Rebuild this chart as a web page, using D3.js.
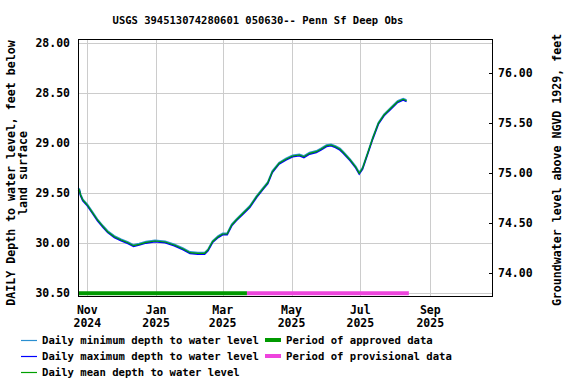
<!DOCTYPE html>
<html><head><meta charset="utf-8">
<script src="https://cdn.jsdelivr.net/npm/d3@7"></script>
<style>
html,body{margin:0;padding:0;background:#fff;}
text{font-family:"DejaVu Sans Mono",monospace;font-weight:bold;fill:#000;}
</style></head>
<body>
<script>
const title = "USGS 394513074280601 050630-- Penn Sf Deep Obs";
const dates = ["2024-10-24","2024-10-25","2024-10-26","2024-10-28","2024-11-01","2024-11-06","2024-11-10","2024-11-15","2024-11-19","2024-11-25",
"2024-12-01","2024-12-07","2024-12-12","2024-12-17","2024-12-23","2024-12-31","2025-01-09","2025-01-17","2025-01-25","2025-01-31",
"2025-02-07","2025-02-13","2025-02-16","2025-02-20","2025-02-25","2025-03-01","2025-03-05","2025-03-09","2025-03-13","2025-03-19",
"2025-03-25","2025-03-31","2025-04-06","2025-04-10","2025-04-14","2025-04-20","2025-04-26","2025-05-02","2025-05-08","2025-05-12",
"2025-05-17","2025-05-23","2025-05-27","2025-06-01","2025-06-05","2025-06-09","2025-06-13","2025-06-16","2025-06-22","2025-06-27",
"2025-06-30","2025-07-03","2025-07-08","2025-07-12","2025-07-17","2025-07-22","2025-07-28","2025-08-03","2025-08-08","2025-08-11"];
const meanDepth = [29.455,29.467,29.517,29.567,29.617,29.700,29.767,29.834,29.884,29.934,29.967,29.994,30.024,30.010,29.990,29.977,29.987,30.017,30.057,30.094,30.100,30.100,30.067,29.984,29.934,29.907,29.907,29.817,29.767,29.700,29.634,29.534,29.450,29.394,29.284,29.200,29.160,29.127,29.117,29.134,29.100,29.084,29.060,29.024,29.017,29.034,29.060,29.094,29.167,29.240,29.300,29.250,29.084,28.950,28.800,28.717,28.650,28.584,28.560,28.574];
const minDepth = [29.447,29.459,29.509,29.559,29.609,29.692,29.759,29.826,29.876,29.926,29.959,29.986,30.016,30.002,29.982,29.969,29.979,30.009,30.049,30.086,30.092,30.092,30.059,29.976,29.926,29.899,29.899,29.809,29.759,29.692,29.626,29.526,29.442,29.386,29.276,29.192,29.152,29.119,29.109,29.126,29.092,29.076,29.052,29.016,29.009,29.026,29.052,29.086,29.159,29.232,29.292,29.242,29.076,28.942,28.792,28.709,28.642,28.576,28.552,28.566];
const maxDepth = [29.463,29.475,29.525,29.575,29.625,29.708,29.775,29.842,29.892,29.942,29.975,30.002,30.032,30.018,29.998,29.985,29.995,30.025,30.065,30.102,30.108,30.108,30.075,29.992,29.942,29.915,29.915,29.825,29.775,29.708,29.642,29.542,29.458,29.402,29.292,29.208,29.168,29.135,29.125,29.142,29.108,29.092,29.068,29.032,29.025,29.042,29.068,29.102,29.175,29.248,29.308,29.258,29.092,28.958,28.808,28.725,28.658,28.592,28.568,28.582];
const leftTicks = [28.0, 28.5, 29.0, 29.5, 30.0, 30.5];
const rightTicks = [74.0, 74.5, 75.0, 75.5, 76.0];
const xTickDates = ["2024-11-01","2025-01-01","2025-03-01","2025-05-01","2025-07-01","2025-09-01"];
const xTickMonths = ["Nov","Jan","Mar","May","Jul","Sep"];
const xTickYears = ["2024","2025","2025","2025","2025","2025"];
const periodNames = ["approved","provisional"];
const periodStart = ["2024-10-23T18:00","2025-03-22T12:00"];
const periodEnd = ["2025-03-22T12:00","2025-08-13T00:00"];
const landSurface = 104.30;
const legendLines = ["Daily minimum depth to water level","Daily maximum depth to water level","Daily mean depth to water level"];
const legendPeriods = ["Period of approved data","Period of provisional data"];

const W = 576, H = 384;
const L = 78, R = 492, T = 39.5, B = 296;
const colMin = "#2a8fd0", colMax = "#0000ff", colMean = "#00a000";
const colAppr = "#009900", colProv = "#ee44dd";

const parse = s => new Date(s.length > 10 ? s : s + "T00:00");
const svg = d3.select("body").append("svg").attr("width", W).attr("height", H);

const x = d3.scaleTime().domain([parse("2024-10-23T18:00"), parse("2025-10-25T17:00")]).range([L, R]);
const y = d3.scaleLinear().domain([27.962, 30.527]).range([T, B]);
const y2 = d3.scaleLinear().domain([landSurface - 27.962, landSurface - 30.527]).range([T, B]);

// grid
const grid = svg.append("g").attr("shape-rendering", "crispEdges");
grid.selectAll("line.h").data(leftTicks).enter().append("line")
  .attr("x1", L).attr("x2", R).attr("y1", d => Math.round(y(d)) + 0.5).attr("y2", d => Math.round(y(d)) + 0.5)
  .attr("stroke", "#cccccc");
grid.selectAll("line.v").data(xTickDates).enter().append("line")
  .attr("y1", T).attr("y2", B).attr("x1", d => Math.round(x(parse(d))) + 0.5).attr("x2", d => Math.round(x(parse(d))) + 0.5)
  .attr("stroke", "#cccccc");

// period bars
const pcols = [colAppr, colProv];
svg.selectAll("line.p").data(periodNames).enter().append("line")
  .attr("x1", (d, i) => x(parse(periodStart[i]))).attr("x2", (d, i) => x(parse(periodEnd[i])))
  .attr("y1", y(30.5)).attr("y2", y(30.5))
  .attr("stroke", (d, i) => pcols[i]).attr("stroke-width", 4);

// data lines
const series = [[minDepth, colMin, 1.6], [maxDepth, colMax, 1.6], [meanDepth, colMean, 1.2]];
series.forEach(([vals, c, w]) => {
  const line = d3.line().x((d, i) => x(parse(dates[i]))).y(d => y(d));
  svg.append("path").datum(vals).attr("d", line).attr("fill", "none").attr("stroke", c).attr("stroke-width", w);
});

// border
svg.append("rect").attr("x", L + 0.5).attr("y", T).attr("width", R - L).attr("height", B - T)
  .attr("fill", "none").attr("stroke", "#000").attr("stroke-width", 1).attr("shape-rendering", "crispEdges");

// left axis
const ax = svg.append("g").attr("transform", `translate(${L},0)`)
  .call(d3.axisLeft(y).tickValues(leftTicks).tickFormat(d3.format(".2f")).tickSize(0).tickPadding(8));
ax.select(".domain").remove();
ax.selectAll("text").attr("font-size", "11.5px").style("font-family", "DejaVu Sans Mono").style("font-weight", "bold");

// right axis
const ar = svg.append("g").attr("transform", `translate(${R},0)`)
  .call(d3.axisRight(y2).tickValues(rightTicks).tickFormat(d3.format(".2f")).tickSizeInner(-3).tickSizeOuter(0).tickPadding(6));
ar.select(".domain").remove();
ar.selectAll("line").attr("stroke", "#000").attr("shape-rendering", "crispEdges");
ar.selectAll("text").attr("font-size", "11.5px").style("font-family", "DejaVu Sans Mono").style("font-weight", "bold");

// x labels
const xl = svg.append("g");
xTickDates.forEach((d, i) => {
  const px = x(parse(d));
  xl.append("text").attr("x", px).attr("y", 314).attr("text-anchor", "middle").attr("font-size", "11.5px").text(xTickMonths[i]);
  xl.append("text").attr("x", px).attr("y", 327).attr("text-anchor", "middle").attr("font-size", "11.5px").text(xTickYears[i]);
});

// title
svg.append("text").attr("x", (L + R) / 2 - 27).attr("y", 24).attr("text-anchor", "middle").attr("font-size", "10.5px").text(title);

// axis titles
svg.append("text").attr("transform", "translate(15,173) rotate(-90)").attr("text-anchor", "middle").attr("font-size", "11.6px")
  .text("DAILY Depth to water level, feet below");
svg.append("text").attr("transform", "translate(27,173) rotate(-90)").attr("text-anchor", "middle").attr("font-size", "11.6px")
  .text("land surface");
svg.append("text").attr("transform", "translate(561,170) rotate(-90)").attr("text-anchor", "middle").attr("font-size", "11.6px")
  .text("Groundwater level above NGVD 1929, feet");

// legend
const lc = [colMin, colMax, colMean];
legendLines.forEach((t, i) => {
  const yy = 340 + i * 16;
  svg.append("line").attr("x1", 21).attr("x2", 37).attr("y1", yy + 0.5).attr("y2", yy + 0.5).attr("stroke", lc[i]).attr("stroke-width", 1.2);
  svg.append("text").attr("x", 42).attr("y", yy + 4).attr("font-size", "10.6px").text(t);
});
legendPeriods.forEach((t, i) => {
  const yy = 340 + i * 16;
  svg.append("line").attr("x1", 265).attr("x2", 281).attr("y1", yy).attr("y2", yy).attr("stroke", pcols[i]).attr("stroke-width", 4);
  svg.append("text").attr("x", 286).attr("y", yy + 4).attr("font-size", "10.6px").text(t);
});
</script>
</body></html>
